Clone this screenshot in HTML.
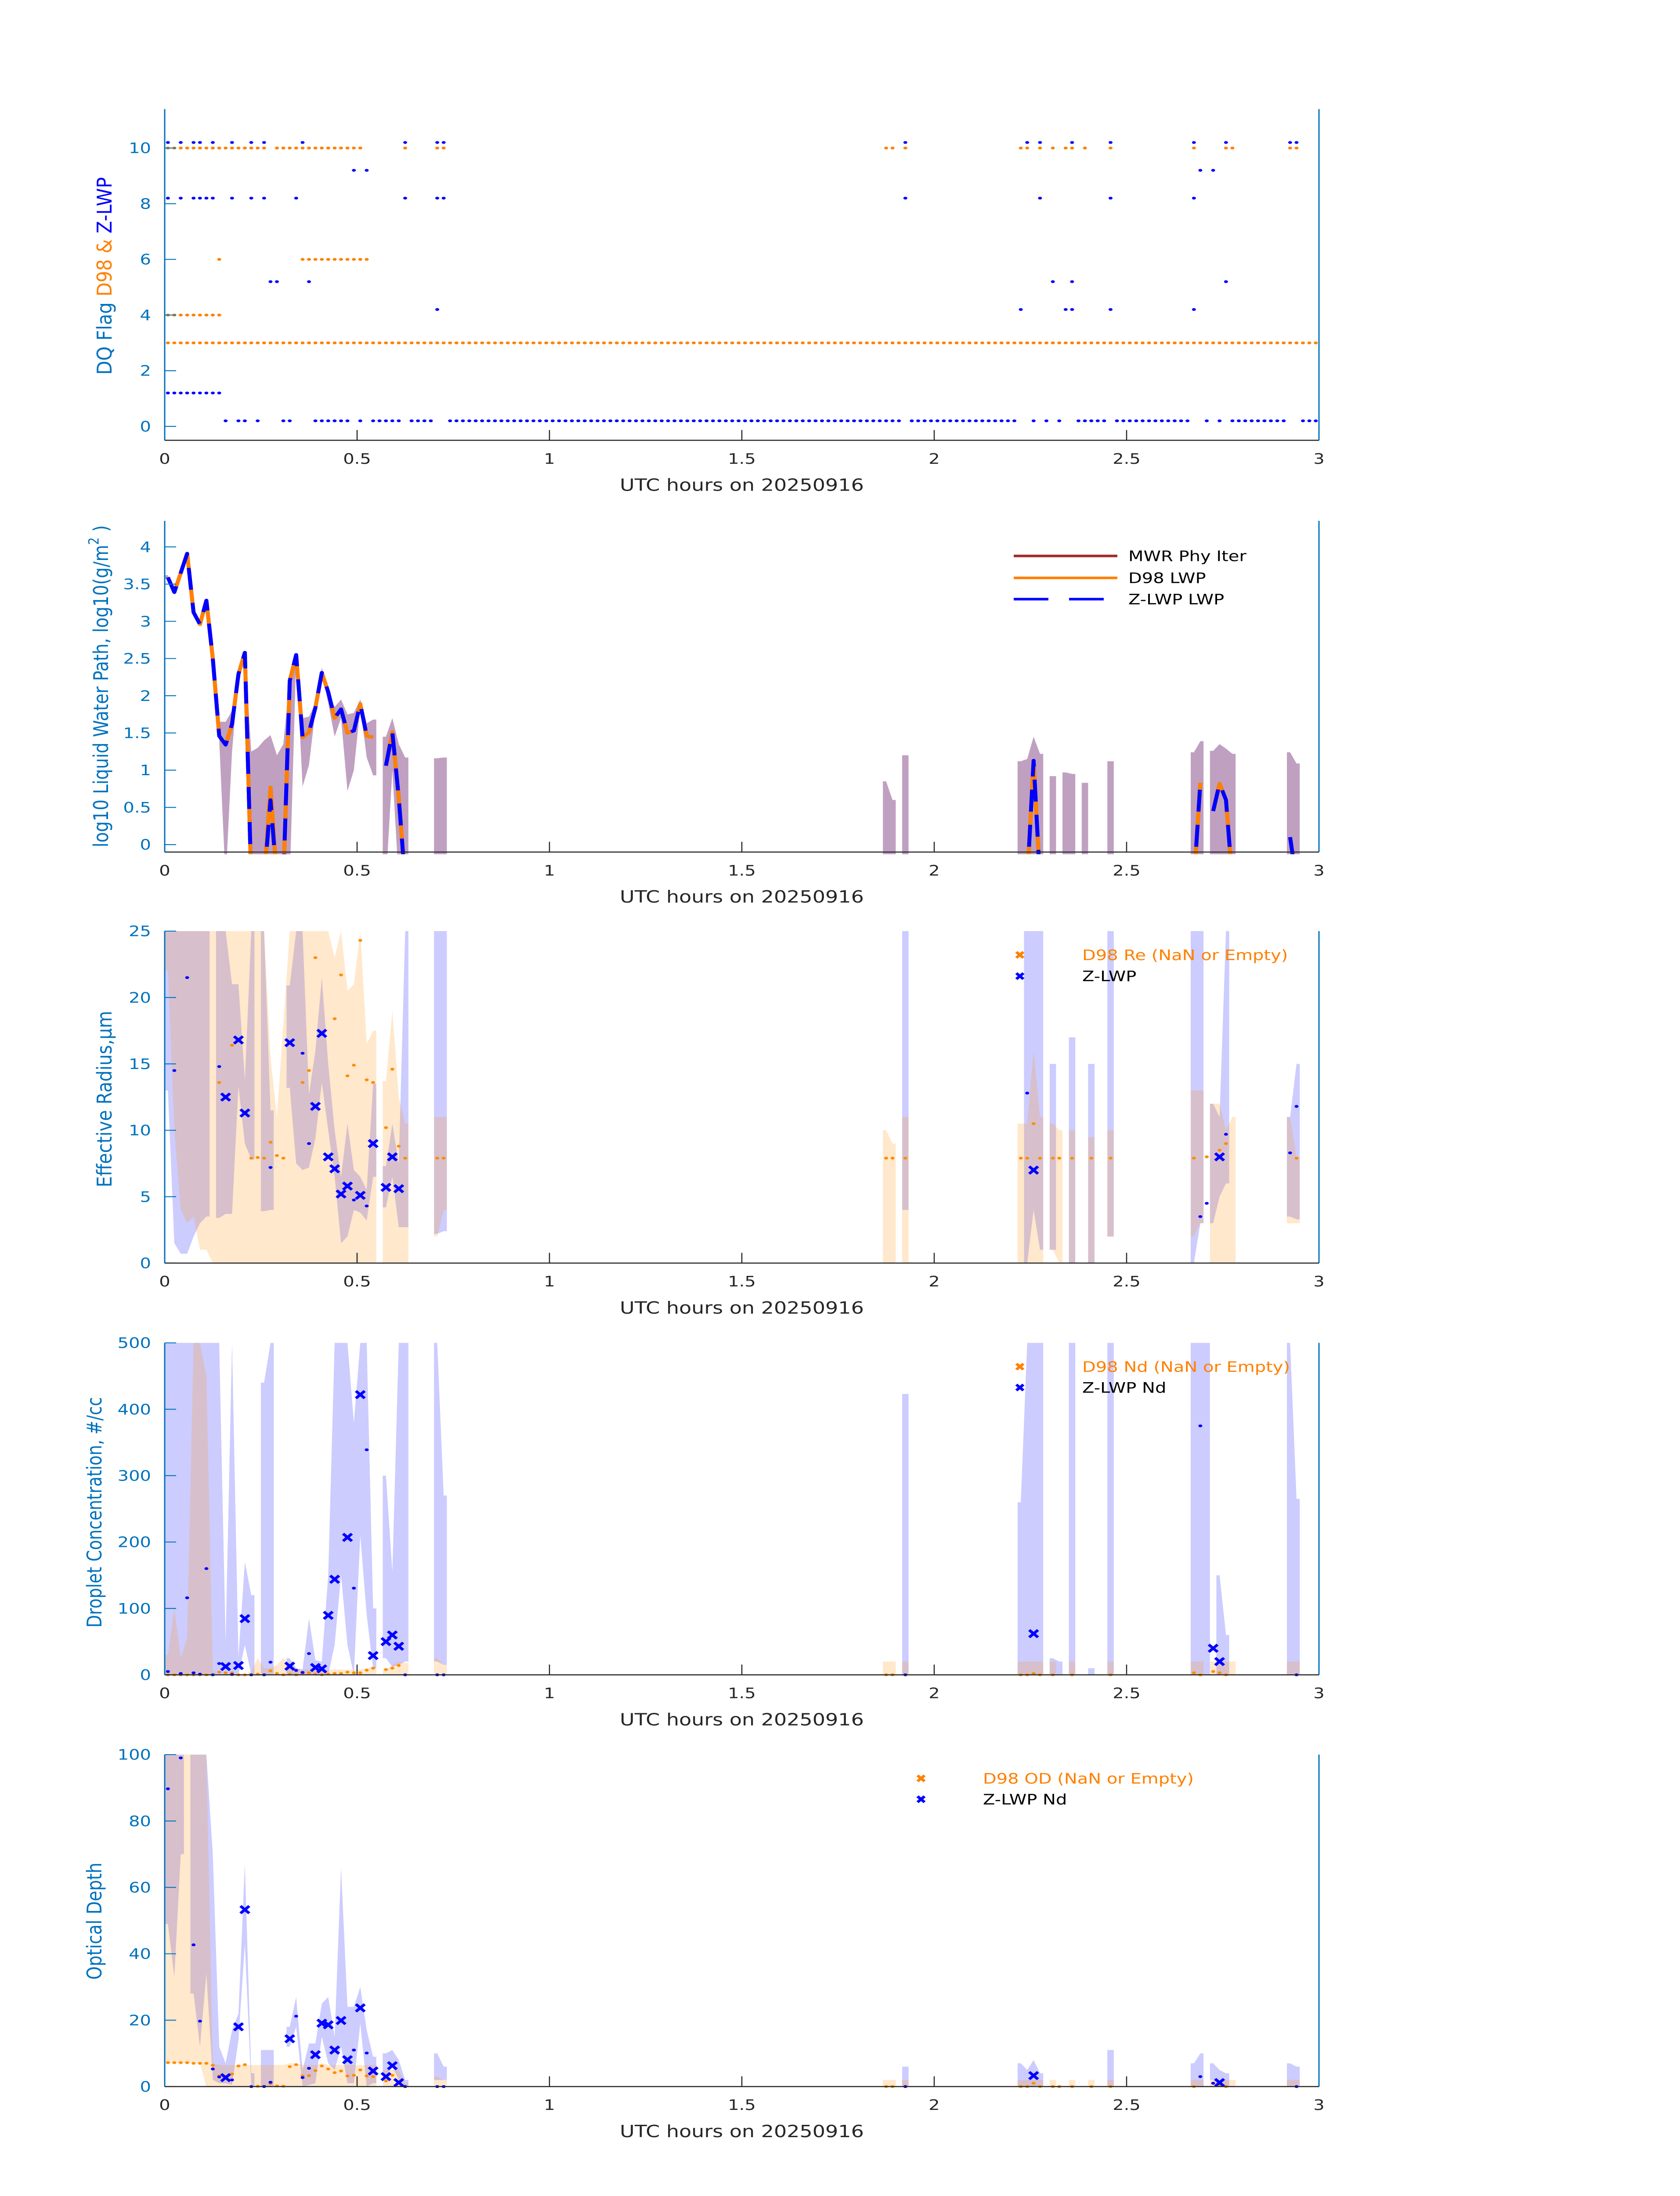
<!DOCTYPE html>
<html><head><meta charset="utf-8"><title>Cloud retrieval timeseries</title>
<style>
html,body{margin:0;padding:0;background:#fff;width:100%;height:100%;overflow:hidden;}
#fig{display:block;position:fixed;left:0;top:0;width:100vw;height:100vh;font-family:"DejaVu Sans","Liberation Sans",sans-serif;}
</style></head>
<body>
<svg id="fig" viewBox="0 0 3825 6000" preserveAspectRatio="none" xmlns="http://www.w3.org/2000/svg"></svg>
<script>
// ---------- Panel 1: DQ flags ----------
const d98Flag3Min = [0,1,2,3,4,5,6,7,8,9,10,11,12,13,14,15,16,17,18,19,20,21,22,23,24,25,26,27,28,29,30,31,32,33,34,35,36,37,38,39,40,41,42,43,44,45,46,47,48,49,50,51,52,53,54,55,56,57,58,59,60,61,62,63,64,65,66,67,68,69,70,71,72,73,74,75,76,77,78,79,80,81,82,83,84,85,86,87,88,89,90,91,92,93,94,95,96,97,98,99,100,101,102,103,104,105,106,107,108,109,110,111,112,113,114,115,116,117,118,119,120,121,122,123,124,125,126,127,128,129,130,131,132,133,134,135,136,137,138,139,140,141,142,143,144,145,146,147,148,149,150,151,152,153,154,155,156,157,158,159,160,161,162,163,164,165,166,167,168,169,170,171,172,173,174,175,176,177,178,179,180];
const d98Flag10Min = [0,1,2,3,4,5,6,7,8,9,10,11,12,13,14,15,17,18,19,20,21,22,23,24,25,26,27,28,29,30,37,42,43,112,113,115,133,134,136,138,140,141,143,147,160,165,166,175,176];
const d98Flag6Min = [8,21,22,23,24,25,26,27,28,29,30,31];
const d98Flag4Min = [0,1,2,3,4,5,6,7,8];
const zFlag102Min = [0,2,4,5,7,10,13,15,21,37,42,43,115,134,136,141,147,160,165,175,176];
const zFlag92Min = [29,31,161,163];
const zFlag82Min = [0,2,4,5,6,7,10,13,15,20,37,42,43,115,136,147,160];
const zFlag52Min = [16,17,22,138,141,165];
const zFlag42Min = [42,133,140,141,147,160];
const zFlag12Min = [0,1,2,3,4,5,6,7,8];
const zFlag02Min = [9,11,12,14,18,19,23,24,25,26,27,28,30,32,33,34,35,36,38,39,40,41,44,45,46,47,48,49,50,51,52,53,54,55,56,57,58,59,60,61,62,63,64,65,66,67,68,69,70,71,72,73,74,75,76,77,78,79,80,81,82,83,84,85,86,87,88,89,90,91,92,93,94,95,96,97,98,99,100,101,102,103,104,105,106,107,108,109,110,111,112,113,114,116,117,118,119,120,121,122,123,124,125,126,127,128,129,130,131,132,135,137,139,142,143,144,145,146,148,149,150,151,152,153,154,155,156,157,158,159,162,164,166,167,168,169,170,171,172,173,174,177,178,179,180];
const flagTicks = [0,2,4,6,8,10];

// ---------- Panel 2: LWP ----------
const lwpMin = [0,1,2,3,4,5,6,7,8,9,10,11,12,13,15,16,17,18,19,20,21,22,23,24,25,26,27,28,29,30,31,32,34,35,36,37,134,135,136,160,161,163,164,165,166,175,176];
const d98Lwp = [3.59,3.39,3.65,3.91,3.12,2.96,3.28,2.5,1.46,1.34,1.62,2.29,2.58,-0.5,-0.5,0.77,-0.5,-0.5,2.2,2.55,1.44,1.51,1.84,2.31,2.05,1.7,1.82,1.5,1.53,1.89,1.46,1.44,1.06,1.51,0.63,-0.5,-0.5,1.13,-0.5,-0.5,0.83,0.45,0.82,0.6,-0.5,0.1,-0.5];
const zLwp = [3.59,3.39,3.65,3.91,3.12,2.96,3.28,2.5,1.46,1.34,1.62,2.29,2.58,-0.5,-0.5,0.6,-0.5,-0.5,2.2,2.55,1.44,1.51,1.84,2.31,2.05,1.7,1.82,1.5,1.53,1.89,1.46,1.44,1.06,1.51,0.63,-0.5,-0.5,1.13,-0.5,-0.5,0.83,0.45,0.82,0.6,-0.5,0.1,-0.5];
const lwpBandMin = [0,1,2,3,4,5,6,7,8,9,10,11,12,13,14,15,16,17,18,19,20,21,22,23,24,25,26,27,28,29,30,31,32,34,35,36,37,42,43,112,113,115,133,134,135,136,138,140,141,143,147,160,161,163,164,165,166,175,176];
const lwpBandHi = [3.62,3.42,3.68,3.93,3.14,2.98,3.3,2.52,1.65,1.65,1.8,2.3,2.6,1.25,1.3,1.4,1.47,1.2,1.35,2.25,2.58,1.7,1.72,1.9,2.38,2.0,1.85,1.95,1.75,1.77,1.95,1.63,1.68,1.45,1.7,1.35,1.17,1.16,1.17,0.85,0.6,1.2,1.12,1.15,1.45,1.22,0.92,0.97,0.95,0.83,1.12,1.24,1.39,1.26,1.35,1.29,1.22,1.24,1.09];
const lwpBandLo = [3.57,3.37,3.62,3.89,3.1,2.94,3.26,2.48,1.4,-0.5,1.25,2.25,2.55,-0.5,-0.5,-0.5,-0.5,-0.5,-0.5,-0.5,2.5,0.78,1.07,1.8,2.3,1.9,1.45,1.7,0.72,1.0,1.85,1.17,0.93,-0.5,1.0,-0.5,-0.5,-0.5,-0.5,-0.5,-0.5,-0.5,-0.5,-0.5,-0.5,-0.5,-0.5,-0.5,-0.5,-0.5,-0.5,-0.5,-0.5,-0.5,-0.5,-0.5,-0.5,-0.5,-0.5];
const lwpTicks = [0,0.5,1,1.5,2,2.5,3,3.5,4];

// ---------- Panel 3: Effective radius ----------
const reBlueMin = [0,1,2,3,4,5,6,8,9,10,11,12,13,15,16,19,20,21,22,23,24,25,26,27,28,29,30,31,32,34,35,36,37,42,43,115,134,135,136,138,141,144,147,160,161,163,164,165,175,176];
const reBlueHi = [25,25,25,25,25,25,25,25,25,21,21,13.8,25,25,11.5,20.9,25,25,12.7,16,21.5,15,10,6.5,10.5,7,6.5,5.5,13.5,7.3,10.5,7.5,25,25,25,25,25,25,25,15,17,15,25,25,25,12,11,25,11,15];
const reBlueLo = [13,1.5,0.7,0.7,2,3,3.5,3.4,3.7,3.7,13.3,9,7.8,3.9,4,13.2,7.5,7,7.2,9.4,13.6,10,6.5,1.5,2,4,3.8,3.2,6.5,4.2,6.5,2.7,2.7,2.2,2.4,4,0,4,1,1,0,0,2,0,3,3,5,6,3.5,3.3];
const reOrMin = [0,1,2,3,4,5,6,7,8,9,10,11,12,13,14,15,16,17,18,19,20,21,22,23,24,25,26,27,28,29,30,31,32,34,35,36,37,42,43,112,113,115,133,134,135,136,138,139,141,144,147,160,161,163,164,165,166,175,176];
const reOrHi = [25,25,25,25,25,25,25,25,25,25,25,25,25,25,25,25,15.5,11,18,25,25,25,25,25,25,25,23,25,20.5,21,25,16.5,17.5,13.7,19,12.5,10.5,11,11,10,9,11,10.5,10.5,16,11,10.5,10,10,9.5,10,13,13,12,12,10,11,11,8];
const reOrLo = [22,10,4,3,3.5,1,1,0,0,0,0,0,0,0,0,0,0,0,0,0,0,0,0,0,0,0,0,0,0,0,0,0,0,0,0,0,0,2,4,0,0,0,0,0,0,0,1,0,0,0,2,2,3,0,0,0,0,3,3];
const reZXMin = [9,11,12,19,23,24,25,26,27,28,30,32,34,35,36,135,164];
const reZXVal = [12.5,16.8,11.3,16.6,11.8,17.3,8.0,7.1,5.2,5.8,5.1,9.0,5.7,8.0,5.6,7.0,8.0];
const reZDotMin = [1,3,8,16,21,22,29,31,134,161,162,165,175,176];
const reZDotVal = [14.5,21.5,14.8,7.2,15.8,9.0,4.75,4.3,12.8,3.5,4.5,9.7,8.3,11.8];
const reD98Min = [8,10,13,14,15,16,17,18,21,22,23,26,27,28,29,30,31,32,34,35,36,37,42,43,112,113,115,133,134,135,136,138,139,141,144,147,160,162,164,165,176];
const reD98Val = [13.6,16.4,7.9,7.95,7.9,9.1,8.1,7.9,13.6,14.5,23.0,18.4,21.7,14.1,14.9,24.3,13.8,13.6,10.2,14.6,8.8,7.9,7.9,7.9,7.9,7.9,7.9,7.9,7.9,10.5,7.9,7.9,7.9,7.9,7.9,7.9,7.9,8,8.5,9,7.9];
const reTicks = [0,5,10,15,20,25];

// ---------- Panel 4: Droplet concentration ----------
const ndBlueMin = [0,1,2,3,4,5,6,7,8,9,10,11,12,13,15,16,19,20,21,22,23,24,25,26,27,28,29,30,31,32,34,35,36,37,42,43,115,133,134,135,136,138,139,141,144,147,160,161,162,164,165,175,176];
const ndBlueHi = [500,500,500,500,500,500,500,500,500,50,500,27,170,120,440,500,25,10,8,85,22,20,150,500,500,500,380,500,500,100,300,155,500,500,500,270,423,260,500,500,500,25,20,500,10,500,500,500,500,150,60,500,265];
const ndBlueLo = [0,0,0,0,0,0,0,0,0,0,0,0,45,0,0,0,0,0,0,0,0,0,0,45,150,45,0,210,90,10,25,12,15,20,20,15,0,0,0,0,0,0,0,0,0,0,0,0,0,0,0,0,0];
const ndOrMin = [0,1,2,3,4,5,6,7,13,14,15,16,17,18,19,20,21,22,23,24,25,26,27,28,29,30,31,32,34,35,36,37,42,43,112,113,115,133,134,135,136,138,141,147,160,161,163,164,165,166,175,176];
const ndOrHi = [30,100,25,55,500,500,450,5,5,25,10,10,15,25,15,10,8,8,8,8,8,8,8,8,8,8,10,12,8,15,20,18,25,15,20,20,20,20,20,20,20,20,20,20,20,20,20,20,20,20,20,20];
const ndOrLo = [0,0,0,0,0,0,0,0,0,0,0,0,0,0,0,0,0,0,0,0,0,0,0,0,0,0,0,0,0,0,0,0,0,0,0,0,0,0,0,0,0,0,0,0,0,0,0,0,0,0,0,0];
const ndZXMin = [9,11,12,19,23,24,25,26,28,30,32,34,35,36,135,163,164];
const ndZXVal = [12.5,14,84.6,13,11,9,89.6,143.9,207,422,29,50,60,43,62,40,20];
const ndZDotMin = [0,2,3,4,5,6,7,8,10,13,15,16,20,21,22,29,31,37,42,43,115,161,176];
const ndZDotVal = [5,2,116,3,1,160,0,17,0.5,0,0,19,6.6,3.6,32,130.5,339,0,0,0,0,375,0];
const ndD98Min = [0,1,2,3,4,5,6,7,8,9,10,11,12,13,14,15,16,17,18,19,20,21,22,23,24,25,26,27,28,29,30,31,32,34,35,36,37,112,113,115,133,134,135,136,138,141,147,160,161,163,164,165,176];
const ndD98Val = [0,0,0,0,0,0,0,0,4,3,3,0,0,0,1,0,6,2,0,1,0,2,3,1,0,1,2,2,4,3,3,7,10,8,10,14,0,0,0,0,0,0,2,0,0,0,0,3,0,5,3,0,0];
const ndTicks = [0,100,200,300,400,500];

// ---------- Panel 5: Optical depth ----------
const odBlueMin = [0,1,2,4,5,6,7,8,9,10,11,12,13,15,16,19,20,21,22,23,24,25,26,27,28,29,30,31,32,34,35,36,37,42,43,115,133,134,135,136,147,160,161,163,164,165,175,176];
const odBlueHi = [100,100,100,100,100,100,70,12,7,17,22,67,4,11,11,18,27,5,13,13,25,27,15,66,24,24,30,17,9,10,11,8,2,10,6,6,7,5,8,4,11,7,10,7,5,4,7,6];
const odBlueLo = [49,33,70,28,12,34,2,1,1,0.5,14,43,0,0,0,12,18,0,0.5,1,15,7,5,12,1,1,19,0,1,3,6,2,0,2,2,0,0,0,0,0,0,0,0,2,0,0,0,0];
const odOrMin = [0,1,2,3,4,5,6,7,8,9,10,11,12,13,14,15,16,17,18,19,20,21,22,23,24,25,26,27,28,29,30,31,32,34,35,36,37,42,43,112,113,115,133,134,135,136,138,141,144,147,160,161,163,164,165,166,175,176];
const odOrHi = [100,100,100,100,100,100,100,7,6.5,6.5,6.5,6.5,6.5,6.5,6.5,6.5,6.5,6.5,6.5,7,7,6.5,6.5,6.5,7,6.5,6.5,6.5,6.5,6.5,6.5,6.5,6.5,5,5,5,1,3,2,2,2,2,2,2,2,2,2,2,2,2,2,2,2,2,2,2,2,2];
const odOrLo = [7,7,7,7,7,7,0,0,0,0,0,0,0,0,0,0,0,0,0,0,0,0,0,0,0,0,0,0,0,0,0,0,0,0,0,0,0,0,0,0,0,0,0,0,0,0,0,0,0,0,0,0,0,0,0,0,0,0];
const odZXMin = [9,11,12,19,23,24,25,26,27,28,30,32,34,35,36,135,164];
const odZXVal = [2.7,18,53.3,14.4,9.6,19.1,18.6,11,19.9,8.1,23.7,4.7,3,6.3,1.2,3.3,1.2];
const odZDotMin = [0,2,4,5,7,8,10,13,15,16,20,21,22,29,31,37,42,43,115,161,163,176];
const odZDotVal = [89.7,99,42.7,19.7,5.3,2.9,2,0,0,1.3,21.2,2.7,5.5,11,10.1,0,0,0,0,3,1,0];
const odD98Min = [0,1,2,3,4,5,6,7,8,9,10,11,12,13,14,15,16,17,18,19,20,21,22,23,24,25,26,27,28,29,30,31,32,34,35,36,37,112,113,115,133,134,135,136,138,139,141,144,147,160,163,164,165];
const odD98Val = [7.2,7.2,7.2,7.2,7,7,7,6.4,3.2,3,3.8,6.2,6.6,0,0.1,0.1,0.9,0.2,0.1,6,6.6,3.2,3.3,4.8,6.2,5.3,4.2,4.7,3.2,3.4,5,3.2,3,1.7,3.4,1,0,0,0,0,0,0,1,0,0,0,0,0,0,0,1,0.5,0];
const odTicks = [0,20,40,60,80,100];

const xTicks = [0,0.5,1,1.5,2,2.5,3];
const xTickLabels = ["0","0.5","1","1.5","2","2.5","3"];

// ---------- drawing ----------
const NS = "http://www.w3.org/2000/svg";
const svg = document.getElementById("fig");
const X0 = 375, X1 = 3003, HOURS = 3;
const AXC = "#0072BD", ORANGE = "#FF8000", BLUE = "#0000FF";
function xT(t){ return X0 + (X1 - X0) * t / HOURS; }
function xM(m){ return xT((m + 0.5) / 60); }
const HW = (X1 - X0) / HOURS / 120;
function mk(tag, attrs, parent){
  const e = document.createElementNS(NS, tag);
  for (const k in attrs) e.setAttribute(k, attrs[k]);
  (parent || svg).appendChild(e);
  return e;
}
function makePanel(id, top, bottom, ymin, ymax){
  const g = mk("g", {});
  
  
  const cp = mk("clipPath", {id: "clip-" + id}, g);
  mk("rect", {x: X0, y: top, width: X1 - X0, height: bottom - top + 6}, cp);
  const plot = mk("g", {"clip-path": "url(#clip-" + id + ")"}, g);
  
  
  const yf = v => bottom - (v - ymin) / (ymax - ymin) * (bottom - top);
  return {g, plot, yf, top, bottom, id};
}
function drawAxes(P, ticks, fmt){
  const g = mk("g", {}, P.g);
  
  
  ticks.forEach(v => {
    const y = P.yf(v);
    const tl = mk("line", {x1: X0, x2: X0 + 26, y1: y, y2: y, stroke: AXC, "stroke-width": 2.5}, g);
    
    
    const t = mk("text", {x: 344, y: y + 14, "text-anchor": "end", "font-size": 40, fill: AXC}, g);
    
    
    t.textContent = fmt(v);
  });
  xTicks.forEach((v, i) => {
    const x = xT(v);
    const tl = mk("line", {x1: x, x2: x, y1: P.bottom, y2: P.bottom - 28, stroke: "#262626", "stroke-width": 2.5}, g);
    
    
    const t = mk("text", {x: x, y: P.bottom + 64, "text-anchor": "middle", "font-size": 40, fill: "#262626"}, g);
    
    
    t.textContent = xTickLabels[i];
  });
  const la = mk("line", {x1: X0, x2: X0, y1: P.top, y2: P.bottom, stroke: AXC, "stroke-width": 3}, g);
  
  
  const ra = mk("line", {x1: X1, x2: X1, y1: P.top, y2: P.bottom, stroke: AXC, "stroke-width": 3}, g);
  
  
  const ba = mk("line", {x1: X0, x2: X1, y1: P.bottom, y2: P.bottom, stroke: "#262626", "stroke-width": 3}, g);
  
  
  const xl = mk("text", {x: (X0 + X1) / 2, y: P.bottom + 138, "text-anchor": "middle", "font-size": 46, fill: "#262626"}, g);
  
  
  xl.textContent = "UTC hours on 20250916";
  return g;
}
function yTitle(P, cx, cy, len, parts){
  const t = mk("text", {transform: "translate(" + cx + "," + cy + ") rotate(-90)", "text-anchor": "middle", "dominant-baseline": "middle", "font-size": 46, textLength: len, lengthAdjust: "spacingAndGlyphs"}, P.g);
  
  
  parts.forEach(p => {
    const s = mk("tspan", {fill: p[1]}, t);
    if (p[2]) { s.setAttribute("baseline-shift", "super"); s.setAttribute("font-size", 32); }
    s.textContent = p[0];
  });
}
function runs(mins){
  const out = []; let cur = [];
  mins.forEach((m, i) => {
    if (cur.length && m !== mins[cur[cur.length - 1]] + 1) { out.push(cur); cur = []; }
    cur.push(i);
  });
  if (cur.length) out.push(cur);
  return out;
}
function band(P, mins, hi, lo, fill, name){
  runs(mins).forEach(r => {
    const up = [], dn = [];
    up.push([xM(mins[r[0]]) - HW, P.yf(hi[r[0]])]);
    r.forEach(i => up.push([xM(mins[i]), P.yf(hi[i])]));
    up.push([xM(mins[r[r.length - 1]]) + HW, P.yf(hi[r[r.length - 1]])]);
    dn.push([xM(mins[r[0]]) - HW, P.yf(lo[r[0]])]);
    r.forEach(i => dn.push([xM(mins[i]), P.yf(lo[i])]));
    dn.push([xM(mins[r[r.length - 1]]) + HW, P.yf(lo[r[r.length - 1]])]);
    const pts = up.concat(dn.reverse()).map(p => p[0].toFixed(1) + "," + p[1].toFixed(1)).join(" ");
    const pg = mk("polygon", {points: pts, fill: fill, stroke: "none"}, P.plot);
    
    
  });
}
function line(P, mins, vals, attrs, name){
  runs(mins).forEach(r => {
    const d = r.map((i, k) => (k ? "L" : "M") + xM(mins[i]).toFixed(1) + " " + P.yf(vals[i]).toFixed(1)).join(" ");
    const a = Object.assign({d: d, fill: "none", "stroke-linejoin": "round"}, attrs);
    const p = mk("path", a, P.plot);
    
    
  });
}
function dots(P, mins, vals, color, r, name){
  mins.forEach((m, i) => {
    const c = mk("ellipse", {cx: xM(m), cy: P.yf(vals[i]), rx: r, ry: r * 0.85, fill: color}, P.plot);
    
    
  });
}
function xmark(parent, x, y, color, s){
  return mk("path", {d: "M" + (x - s) + " " + (y - s) + "L" + (x + s) + " " + (y + s) + "M" + (x - s) + " " + (y + s) + "L" + (x + s) + " " + (y - s), stroke: color, "stroke-width": 7, fill: "none"}, parent);
}
function xmarks(P, mins, vals, color, name){
  mins.forEach((m, i) => {
    const p = xmark(P.plot, xM(m), P.yf(vals[i]), color, 10);
    
    
  });
}
function constRow(mins, v){ return mins.map(() => v); }

// Panel 1
const P1 = makePanel("dq-flag", 298, 1203, -0.5, 11.4);
dots(P1, d98Flag3Min, constRow(d98Flag3Min, 3), ORANGE, 4.5, "d98-flag-point");
dots(P1, d98Flag10Min, constRow(d98Flag10Min, 10), ORANGE, 4.5, "d98-flag-point");
dots(P1, d98Flag6Min, constRow(d98Flag6Min, 6), ORANGE, 4.5, "d98-flag-point");
dots(P1, d98Flag4Min, constRow(d98Flag4Min, 4), ORANGE, 4.5, "d98-flag-point");
dots(P1, zFlag102Min, constRow(zFlag102Min, 10.2), BLUE, 4.5, "zlwp-flag-point");
dots(P1, zFlag92Min, constRow(zFlag92Min, 9.2), BLUE, 4.5, "zlwp-flag-point");
dots(P1, zFlag82Min, constRow(zFlag82Min, 8.2), BLUE, 4.5, "zlwp-flag-point");
dots(P1, zFlag52Min, constRow(zFlag52Min, 5.2), BLUE, 4.5, "zlwp-flag-point");
dots(P1, zFlag42Min, constRow(zFlag42Min, 4.2), BLUE, 4.5, "zlwp-flag-point");
dots(P1, zFlag12Min, constRow(zFlag12Min, 1.2), BLUE, 4.5, "zlwp-flag-point");
dots(P1, zFlag02Min, constRow(zFlag02Min, 0.2), BLUE, 4.5, "zlwp-flag-point");
drawAxes(P1, flagTicks, v => String(v));
yTitle(P1, 241, 754, 540, [["DQ Flag  ", AXC], ["D98 &  ", ORANGE], ["Z-LWP", BLUE]]);

// Panel 2
const P2 = makePanel("lwp", 1423, 2328, -0.1, 4.35);
band(P2, lwpBandMin, lwpBandHi, lwpBandLo, "rgb(192,160,192)", "lwp-uncertainty-band");
line(P2, lwpMin, d98Lwp, {stroke: "#A52A2A", "stroke-width": 9}, "mwr-phy-iter-line");
line(P2, lwpMin, d98Lwp, {stroke: ORANGE, "stroke-width": 9}, "d98-lwp-line");
line(P2, lwpMin, zLwp, {stroke: BLUE, "stroke-width": 9, "stroke-dasharray": "60 36"}, "zlwp-lwp-line");
drawAxes(P2, lwpTicks, v => String(v));
yTitle(P2, 233, 1875, 880, [["log10 Liquid Water Path, log10(g/m", AXC], ["2", AXC, true], [" )", AXC]]);
(function(){
  const lg = mk("g", {}, P2.g);
  
  
  const rows = [["MWR Phy Iter", "#A52A2A", null, 1519], ["D98 LWP", ORANGE, null, 1579], ["Z-LWP LWP", BLUE, "79 47", 1637]];
  rows.forEach(r => {
    const a = {x1: 2308, x2: 2544, y1: r[3], y2: r[3], stroke: r[1], "stroke-width": 7};
    if (r[2]) a["stroke-dasharray"] = r[2];
    const l = mk("line", a, lg);
    
    
    const t = mk("text", {x: 2569, y: r[3] + 14, "font-size": 40, fill: "#000"}, lg);
    
    
    t.textContent = r[0];
  });
})();

function markerLegend(P, mx, tx, y1, y2, t1, t2){
  const lg = mk("g", {}, P.g);
  
  
  const m1 = xmark(lg, mx, y1, ORANGE, 8);
  
  
  const a = mk("text", {x: tx, y: y1 + 14, "font-size": 40, fill: ORANGE}, lg);
  
  
  a.textContent = t1;
  const m2 = xmark(lg, mx, y2, BLUE, 8);
  
  
  const b = mk("text", {x: tx, y: y2 + 14, "font-size": 40, fill: "#000"}, lg);
  
  
  b.textContent = t2;
}

// Panel 3
const P3 = makePanel("effective-radius", 2544, 3451, 0, 25);
band(P3, reBlueMin, reBlueHi, reBlueLo, "rgba(0,0,255,0.2)", "zlwp-re-band");
band(P3, reOrMin, reOrHi, reOrLo, "rgba(255,140,0,0.2)", "d98-re-band");
dots(P3, reD98Min, reD98Val, "rgb(255,140,0)", 4.5, "d98-re-point");
dots(P3, reZDotMin, reZDotVal, BLUE, 4.5, "zlwp-re-point");
xmarks(P3, reZXMin, reZXVal, BLUE, "zlwp-re-marker");
drawAxes(P3, reTicks, v => String(v));
yTitle(P3, 241, 3003, 482, [["Effective Radius,\u03BCm", AXC]]);
markerLegend(P3, 2322, 2464, 2609, 2667, "D98 Re (NaN or Empty)", "Z-LWP");

// Panel 4
const P4 = makePanel("droplet-concentration", 3669, 4576, 0, 500);
band(P4, ndBlueMin, ndBlueHi, ndBlueLo, "rgba(0,0,255,0.2)", "zlwp-nd-band");
band(P4, ndOrMin, ndOrHi, ndOrLo, "rgba(255,140,0,0.2)", "d98-nd-band");
dots(P4, ndD98Min, ndD98Val, "rgb(255,140,0)", 4.5, "d98-nd-point");
dots(P4, ndZDotMin, ndZDotVal, BLUE, 4.5, "zlwp-nd-point");
xmarks(P4, ndZXMin, ndZXVal, BLUE, "zlwp-nd-marker");
drawAxes(P4, ndTicks, v => String(v));
yTitle(P4, 218, 4132, 630, [["Droplet Concentration, #/cc", AXC]]);
markerLegend(P4, 2322, 2464, 3734, 3791, "D98 Nd (NaN or Empty)", "Z-LWP Nd");

// Panel 5
const P5 = makePanel("optical-depth", 4794, 5701, 0, 100);
band(P5, odBlueMin, odBlueHi, odBlueLo, "rgba(0,0,255,0.2)", "zlwp-od-band");
band(P5, odOrMin, odOrHi, odOrLo, "rgba(255,140,0,0.2)", "d98-od-band");
dots(P5, odD98Min, odD98Val, "rgb(255,140,0)", 4.5, "d98-od-point");
dots(P5, odZDotMin, odZDotVal, BLUE, 4.5, "zlwp-od-point");
xmarks(P5, odZXMin, odZXVal, BLUE, "zlwp-od-marker");
drawAxes(P5, odTicks, v => String(v));
yTitle(P5, 218, 5249, 320, [["Optical Depth", AXC]]);
markerLegend(P5, 2097, 2238, 4859, 4916, "D98 OD (NaN or Empty)", "Z-LWP Nd");
</script>
</body></html>
